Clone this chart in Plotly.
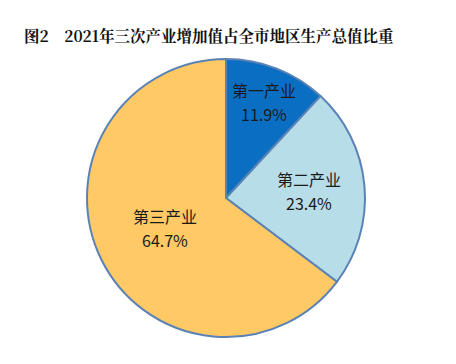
import math
import plotly.graph_objects as go

categories = ["第一产业", "第二产业", "第三产业"]
values = [11.9, 23.4, 64.7]
colors = ["#0A6FC2", "#B6DDE8", "#FFC966"]

# label placement (fraction of radius along each slice's mid-angle)
label_radius = [0.74, 0.60, 0.49]

W, H = 456, 364
OFF = 8  # default page body margin
cx, cy, r = 226 - OFF, 198 - OFF, 139
fig = go.Figure(go.Pie(
    labels=categories,
    values=values,
    sort=False,
    direction="clockwise",
    rotation=0,
    marker=dict(colors=colors, line=dict(color="#5B82B5", width=2)),
    textinfo="none",
    hoverinfo="skip",
    domain=dict(x=[(cx - r)/W, (cx + r)/W], y=[(H - cy - r)/H, (H - cy + r)/H]),
    showlegend=False,
))

annotations = [dict(
    text="<b>图2\u00a0\u00a0\u00a0\u00a02021年三次产业增加值占全市地区生产总值比重</b>",
    x=(22 - OFF)/W, y=1-(35 - OFF)/H, xref="paper", yref="paper",
    xanchor="left", yanchor="middle", showarrow=False,
    font=dict(family="Noto Serif CJK SC, Noto Sans CJK SC", size=15.5, color="#111111"),
)]

total = sum(values)
cum = 0.0
lab_font = dict(family="Noto Sans CJK SC", size=16, color="#1a1a1a")
for name, v, f in zip(categories, values, label_radius):
    mid = (cum + v / 2) / total * 2 * math.pi
    cum += v
    px = cx + f * r * math.sin(mid)
    py = cy - f * r * math.cos(mid)
    xp, yp = px / W, 1 - py / H
    annotations.append(dict(text=name, x=xp, y=yp, xref="paper", yref="paper",
                            xanchor="center", yanchor="middle", yshift=12,
                            showarrow=False, font=lab_font))
    annotations.append(dict(text=f"{v:.1f}%", x=xp, y=yp, xref="paper", yref="paper",
                            xanchor="center", yanchor="middle", yshift=-12,
                            showarrow=False, font=lab_font))

fig.update_layout(
    width=W, height=H,
    margin=dict(l=0, r=0, t=0, b=0),
    paper_bgcolor="white",
    plot_bgcolor="white",
    annotations=annotations,
)

fig.write_html("out.html")
